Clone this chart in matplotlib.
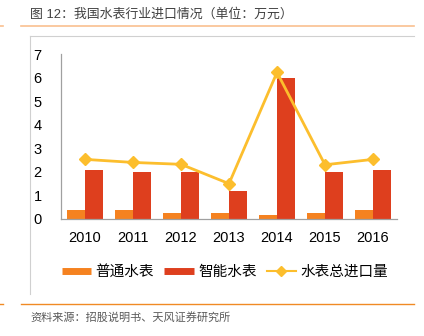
import matplotlib
matplotlib.use("Agg")
import numpy as np
from matplotlib import pyplot as plt
from matplotlib.lines import Line2D

plt.rcParams["font.family"] = ["Liberation Sans", "Noto Sans CJK SC", "DejaVu Sans"]

years = ["2010", "2011", "2012", "2013", "2014", "2015", "2016"]
normal_meter = [0.37, 0.37, 0.25, 0.25, 0.17, 0.25, 0.37]
smart_meter = [2.08, 1.98, 1.98, 1.19, 6.0, 1.98, 2.08]
total_import = [2.53, 2.4, 2.32, 1.5, 6.22, 2.3, 2.53]

c_normal = "#F58220"
c_smart = "#DE3F1E"
c_total = "#FCBE2D"

W, H = 424, 336
fig = plt.figure(figsize=(W / 100, H / 100), dpi=100)

def fx(px):
    return px / W

def fy(py):
    return 1 - py / H

# frame lines and header / footer rules
fig.add_artist(Line2D([fx(21), fx(414)], [fy(26)] * 2, color="#FAC090", lw=1.2))
fig.add_artist(Line2D([fx(0), fx(3)], [fy(26)] * 2, color="#FAC090", lw=1.2))
fig.add_artist(Line2D([fx(29.5), fx(414)], [fy(36)] * 2, color="#D0D0D0", lw=0.8))
fig.add_artist(Line2D([fx(29.5), fx(29.5)], [fy(36), fy(294)], color="#D0D0D0", lw=0.8))
fig.add_artist(Line2D([fx(21), fx(414)], [fy(304)] * 2, color="#F08A24", lw=1.0))
fig.add_artist(Line2D([fx(0), fx(3)], [fy(304)] * 2, color="#F08A24", lw=1.0))

fig.text(fx(30), fy(14), "图 12：我国水表行业进口情况（单位：万元）",
         fontsize=9.3, color="#404040", va="center", ha="left")
fig.text(fx(30), fy(317), "资料来源：招股说明书、天风证券研究所",
         fontsize=8, color="#595959", va="center", ha="left")

ax = fig.add_axes([fx(61), fy(219), fx(397) - fx(61), fy(54) - fy(219)])
x = np.arange(len(years))
bw = 0.375
ax.bar(x - bw / 2, normal_meter, bw, color=c_normal, label="普通水表")
ax.bar(x + bw / 2, smart_meter, bw, color=c_smart, label="智能水表")
ax.plot(x, total_import, color=c_total, lw=2, marker="D", markersize=6,
        label="水表总进口量")

ax.set_xlim(-0.5, len(years) - 0.5)
ax.set_ylim(0, 7)
ax.set_yticks(range(0, 8))
ax.set_xticks(x)
ax.set_xticklabels(years)
ax.tick_params(axis="both", length=0, labelsize=10.5, colors="#000000")
ax.tick_params(axis="y", pad=14)
ax.tick_params(axis="x", pad=9)
for s in ["top", "right"]:
    ax.spines[s].set_visible(False)
for s in ["left", "bottom"]:
    ax.spines[s].set_color("#A0A0A0")
    ax.spines[s].set_linewidth(0.9)

handles = [
    Line2D([], [], color=c_normal, lw=5, solid_capstyle="butt"),
    Line2D([], [], color=c_smart, lw=5, solid_capstyle="butt"),
    Line2D([], [], color=c_total, lw=1.5, marker="D", markersize=5),
]
fig.legend(handles, ["普通水表", "智能水表", "水表总进口量"], loc="center",
           bbox_to_anchor=(fx(225), fy(272)), ncol=3, frameon=False,
           fontsize=10.5, handlelength=2, handletextpad=0.3, columnspacing=0.7)

fig.savefig("out.png", dpi=100, facecolor="white")
